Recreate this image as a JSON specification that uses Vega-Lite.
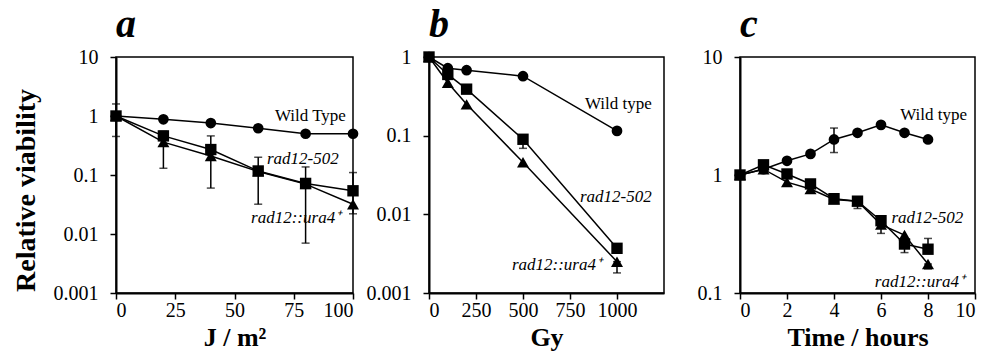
{
  "$schema": "https://vega.github.io/schema/vega-lite/v6.json",
  "autosize": {"type": "pad"},
  "padding": {"left": 11, "top": 4, "right": 0, "bottom": 0},
  "background": "white",
  "config": {
    "font": "Times New Roman, Liberation Serif, serif",
    "view": {"stroke": "black", "strokeWidth": 1.5},
    "axis": {
      "grid": false,
      "labelFont": "Times New Roman, Liberation Serif, serif",
      "labelFontSize": 20,
      "labelColor": "black",
      "domainColor": "black",
      "domainWidth": 2,
      "tickColor": "black",
      "tickWidth": 1.5,
      "tickSize": 6,
      "titleFont": "Times New Roman, Liberation Serif, serif",
      "titleFontSize": 26,
      "titleFontWeight": "bold",
      "titleColor": "black"
    },
    "axisY": {"labelPadding": 12},
    "axisX": {"labelPadding": 1, "titleY": 44, "titleBaseline": "middle", "format": "d"},
    "text": {"font": "Times New Roman, Liberation Serif, serif"},
    "title": {"font": "Times New Roman, Liberation Serif, serif", "fontSize": 40, "fontStyle": "italic", "fontWeight": "bold", "anchor": "start", "frame": "group", "baseline": "alphabetic", "offset": 2, "color": "black"}
  },
  "datasets": {
    "pts": [
      {"panel": "a", "strain": "wt", "x": 0, "y": 1},
      {"panel": "a", "strain": "wt", "x": 20, "y": 0.88},
      {"panel": "a", "strain": "wt", "x": 40, "y": 0.76},
      {"panel": "a", "strain": "wt", "x": 60, "y": 0.62},
      {"panel": "a", "strain": "wt", "x": 80, "y": 0.5},
      {"panel": "a", "strain": "wt", "x": 100, "y": 0.5},
      {"panel": "a", "strain": "502", "x": 0, "y": 1},
      {"panel": "a", "strain": "502", "x": 20, "y": 0.46},
      {"panel": "a", "strain": "502", "x": 40, "y": 0.27},
      {"panel": "a", "strain": "502", "x": 60, "y": 0.117},
      {"panel": "a", "strain": "502", "x": 80, "y": 0.072},
      {"panel": "a", "strain": "502", "x": 100, "y": 0.054},
      {"panel": "a", "strain": "ura4", "x": 0, "y": 1},
      {"panel": "a", "strain": "ura4", "x": 20, "y": 0.36},
      {"panel": "a", "strain": "ura4", "x": 40, "y": 0.21},
      {"panel": "a", "strain": "ura4", "x": 60, "y": 0.115},
      {"panel": "a", "strain": "ura4", "x": 80, "y": 0.07},
      {"panel": "a", "strain": "ura4", "x": 100, "y": 0.032},
      {"panel": "b", "strain": "wt", "x": 0, "y": 1},
      {"panel": "b", "strain": "wt", "x": 100, "y": 0.72},
      {"panel": "b", "strain": "wt", "x": 200, "y": 0.68},
      {"panel": "b", "strain": "wt", "x": 500, "y": 0.57},
      {"panel": "b", "strain": "wt", "x": 1000, "y": 0.115},
      {"panel": "b", "strain": "502", "x": 0, "y": 1},
      {"panel": "b", "strain": "502", "x": 100, "y": 0.6},
      {"panel": "b", "strain": "502", "x": 200, "y": 0.39},
      {"panel": "b", "strain": "502", "x": 500, "y": 0.09},
      {"panel": "b", "strain": "502", "x": 1000, "y": 0.0037},
      {"panel": "b", "strain": "ura4", "x": 0, "y": 1},
      {"panel": "b", "strain": "ura4", "x": 100, "y": 0.47},
      {"panel": "b", "strain": "ura4", "x": 200, "y": 0.25},
      {"panel": "b", "strain": "ura4", "x": 500, "y": 0.046},
      {"panel": "b", "strain": "ura4", "x": 1000, "y": 0.0025},
      {"panel": "c", "strain": "wt", "x": 0, "y": 1},
      {"panel": "c", "strain": "wt", "x": 1, "y": 1.12},
      {"panel": "c", "strain": "wt", "x": 2, "y": 1.32},
      {"panel": "c", "strain": "wt", "x": 3, "y": 1.51},
      {"panel": "c", "strain": "wt", "x": 4, "y": 2.0},
      {"panel": "c", "strain": "wt", "x": 5, "y": 2.28},
      {"panel": "c", "strain": "wt", "x": 6, "y": 2.66},
      {"panel": "c", "strain": "wt", "x": 7, "y": 2.28},
      {"panel": "c", "strain": "wt", "x": 8, "y": 2.0},
      {"panel": "c", "strain": "502", "x": 0, "y": 1},
      {"panel": "c", "strain": "502", "x": 1, "y": 1.22},
      {"panel": "c", "strain": "502", "x": 2, "y": 1.02},
      {"panel": "c", "strain": "502", "x": 3, "y": 0.84},
      {"panel": "c", "strain": "502", "x": 4, "y": 0.63},
      {"panel": "c", "strain": "502", "x": 5, "y": 0.6},
      {"panel": "c", "strain": "502", "x": 6, "y": 0.41},
      {"panel": "c", "strain": "502", "x": 7, "y": 0.26},
      {"panel": "c", "strain": "502", "x": 8, "y": 0.235},
      {"panel": "c", "strain": "ura4", "x": 0, "y": 1},
      {"panel": "c", "strain": "ura4", "x": 1, "y": 1.12},
      {"panel": "c", "strain": "ura4", "x": 2, "y": 0.87},
      {"panel": "c", "strain": "ura4", "x": 3, "y": 0.76},
      {"panel": "c", "strain": "ura4", "x": 4, "y": 0.62},
      {"panel": "c", "strain": "ura4", "x": 5, "y": 0.6},
      {"panel": "c", "strain": "ura4", "x": 6, "y": 0.38},
      {"panel": "c", "strain": "ura4", "x": 7, "y": 0.31},
      {"panel": "c", "strain": "ura4", "x": 8, "y": 0.176}
    ],
    "err": [
      {"panel": "a", "x": 0, "lo": 0.45, "hi": 1.6},
      {"panel": "a", "x": 20, "lo": 0.13, "hi": 0.55},
      {"panel": "a", "x": 40, "lo": 0.06, "hi": 0.46},
      {"panel": "a", "x": 60, "lo": 0.032, "hi": 0.2},
      {"panel": "a", "x": 80, "lo": 0.007, "hi": 0.137},
      {"panel": "a", "x": 100, "lo": 0.022, "hi": 0.11},
      {"panel": "b", "x": 500, "lo": 0.069, "hi": 0.09},
      {"panel": "b", "x": 1000, "lo": 0.0018, "hi": 0.0025},
      {"panel": "c", "x": 4, "lo": 1.55, "hi": 2.5},
      {"panel": "c", "x": 4, "lo": 0.58, "hi": 0.62},
      {"panel": "c", "x": 5, "lo": 0.52, "hi": 0.6},
      {"panel": "c", "x": 6, "lo": 0.32, "hi": 0.41},
      {"panel": "c", "x": 7, "lo": 0.22, "hi": 0.26},
      {"panel": "c", "x": 8, "lo": 0.235, "hi": 0.29},
      {"panel": "c", "x": 8, "lo": 0.16, "hi": 0.176}
    ],
    "lab": [
      {"panel": "a", "x": 97, "y": 1.0, "label": "Wild Type", "it": false},
      {"panel": "a", "x": 94, "y": 0.187, "label": "rad12-502", "it": true},
      {"panel": "a", "x": 95, "y": 0.0187, "label": "rad12::ura4⁺", "it": true},
      {"panel": "b", "x": 1185, "y": 0.253, "label": "Wild type", "it": false},
      {"panel": "b", "x": 1185, "y": 0.0166, "label": "rad12-502", "it": true},
      {"panel": "b", "x": 920, "y": 0.0023, "label": "rad12::ura4⁺", "it": true},
      {"panel": "c", "x": 9.66, "y": 3.2, "label": "Wild type", "it": false},
      {"panel": "c", "x": 9.5, "y": 0.434, "label": "rad12-502", "it": true},
      {"panel": "c", "x": 9.57, "y": 0.124, "label": "rad12::ura4⁺", "it": true}
    ]
  },
  "bounds": "flush",
  "spacing": 76,
  "hconcat": [
    {
      "width": 237, "height": 236,
      "title": {"text": "a"},
      "encoding": {
        "x": {"field": "x", "type": "quantitative", "scale": {"domain": [0, 100], "nice": false}, "axis": {"values": [0, 25, 50, 75, 100], "title": "J / m²"}},
        "y": {"field": "y", "type": "quantitative", "scale": {"type": "log", "domain": [0.001, 10], "nice": false}, "axis": {"values": [0.001, 0.01, 0.1, 1, 10], "format": "~g", "title": "Relative viability", "titleX": -90, "titleY": 133, "titleBaseline": "middle", "titleAlign": "center", "titleAngle": 270, "titleFontSize": 28}}
      },
      "layer": [
        {"data": {"name": "pts"}, "transform": [{"filter": "datum.panel == 'a'"}], "mark": {"type": "line", "color": "black", "strokeWidth": 1.5}, "encoding": {"detail": {"field": "strain"}}},
        {"data": {"name": "err"}, "transform": [{"filter": "datum.panel == 'a'"}], "mark": {"type": "errorbar", "color": "black", "thickness": 1.5, "ticks": {"size": 8, "thickness": 1.5}}, "encoding": {"y": {"field": "lo", "type": "quantitative"}, "y2": {"field": "hi"}}},
        {"data": {"name": "pts"}, "transform": [{"filter": "datum.panel == 'a'"}], "mark": {"type": "point", "filled": true, "color": "black", "opacity": 1}, "encoding": {"shape": {"field": "strain", "scale": {"domain": ["wt", "502", "ura4"], "range": ["circle", "square", "triangle-up"]}, "legend": null}, "size": {"field": "strain", "scale": {"domain": ["wt", "502", "ura4"], "range": [115, 144, 150]}, "legend": null}}},
        {"data": {"name": "lab"}, "transform": [{"filter": "datum.panel == 'a' && !datum.it"}], "mark": {"type": "text", "align": "right", "baseline": "middle", "fontSize": 17, "color": "black"}, "encoding": {"text": {"field": "label"}}},
        {"data": {"name": "lab"}, "transform": [{"filter": "datum.panel == 'a' && datum.it"}], "mark": {"type": "text", "align": "right", "baseline": "middle", "fontSize": 17, "fontStyle": "italic", "color": "black"}, "encoding": {"text": {"field": "label"}}}
      ]
    },
    {
      "width": 235, "height": 236,
      "title": {"text": "b"},
      "encoding": {
        "x": {"field": "x", "type": "quantitative", "scale": {"domain": [0, 1250], "nice": false}, "axis": {"values": [0, 250, 500, 750, 1000], "title": "Gy"}},
        "y": {"field": "y", "type": "quantitative", "scale": {"type": "log", "domain": [0.001, 1], "nice": false}, "axis": {"values": [0.001, 0.01, 0.1, 1], "format": "~g", "title": null}}
      },
      "layer": [
        {"data": {"name": "pts"}, "transform": [{"filter": "datum.panel == 'b'"}], "mark": {"type": "line", "color": "black", "strokeWidth": 1.5}, "encoding": {"detail": {"field": "strain"}}},
        {"data": {"name": "err"}, "transform": [{"filter": "datum.panel == 'b'"}], "mark": {"type": "errorbar", "color": "black", "thickness": 1.5, "ticks": {"size": 8, "thickness": 1.5}}, "encoding": {"y": {"field": "lo", "type": "quantitative"}, "y2": {"field": "hi"}}},
        {"data": {"name": "pts"}, "transform": [{"filter": "datum.panel == 'b'"}], "mark": {"type": "point", "filled": true, "color": "black", "opacity": 1}, "encoding": {"shape": {"field": "strain", "scale": {"domain": ["wt", "502", "ura4"], "range": ["circle", "square", "triangle-up"]}, "legend": null}, "size": {"field": "strain", "scale": {"domain": ["wt", "502", "ura4"], "range": [115, 144, 150]}, "legend": null}}},
        {"data": {"name": "lab"}, "transform": [{"filter": "datum.panel == 'b' && !datum.it"}], "mark": {"type": "text", "align": "right", "baseline": "middle", "fontSize": 17, "color": "black"}, "encoding": {"text": {"field": "label"}}},
        {"data": {"name": "lab"}, "transform": [{"filter": "datum.panel == 'b' && datum.it"}], "mark": {"type": "text", "align": "right", "baseline": "middle", "fontSize": 17, "fontStyle": "italic", "color": "black"}, "encoding": {"text": {"field": "label"}}}
      ]
    },
    {
      "width": 235, "height": 236,
      "title": {"text": "c"},
      "encoding": {
        "x": {"field": "x", "type": "quantitative", "scale": {"domain": [0, 10], "nice": false}, "axis": {"values": [0, 2, 4, 6, 8, 10], "title": "Time / hours"}},
        "y": {"field": "y", "type": "quantitative", "scale": {"type": "log", "domain": [0.1, 10], "nice": false}, "axis": {"values": [0.1, 1, 10], "format": "~g", "title": null}}
      },
      "layer": [
        {"data": {"name": "pts"}, "transform": [{"filter": "datum.panel == 'c'"}], "mark": {"type": "line", "color": "black", "strokeWidth": 1.5}, "encoding": {"detail": {"field": "strain"}}},
        {"data": {"name": "err"}, "transform": [{"filter": "datum.panel == 'c'"}], "mark": {"type": "errorbar", "color": "black", "thickness": 1.5, "ticks": {"size": 8, "thickness": 1.5}}, "encoding": {"y": {"field": "lo", "type": "quantitative"}, "y2": {"field": "hi"}}},
        {"data": {"name": "pts"}, "transform": [{"filter": "datum.panel == 'c'"}], "mark": {"type": "point", "filled": true, "color": "black", "opacity": 1}, "encoding": {"shape": {"field": "strain", "scale": {"domain": ["wt", "502", "ura4"], "range": ["circle", "square", "triangle-up"]}, "legend": null}, "size": {"field": "strain", "scale": {"domain": ["wt", "502", "ura4"], "range": [115, 144, 150]}, "legend": null}}},
        {"data": {"name": "lab"}, "transform": [{"filter": "datum.panel == 'c' && !datum.it"}], "mark": {"type": "text", "align": "right", "baseline": "middle", "fontSize": 17, "color": "black"}, "encoding": {"text": {"field": "label"}}},
        {"data": {"name": "lab"}, "transform": [{"filter": "datum.panel == 'c' && datum.it"}], "mark": {"type": "text", "align": "right", "baseline": "middle", "fontSize": 17, "fontStyle": "italic", "color": "black"}, "encoding": {"text": {"field": "label"}}}
      ]
    }
  ]
}
